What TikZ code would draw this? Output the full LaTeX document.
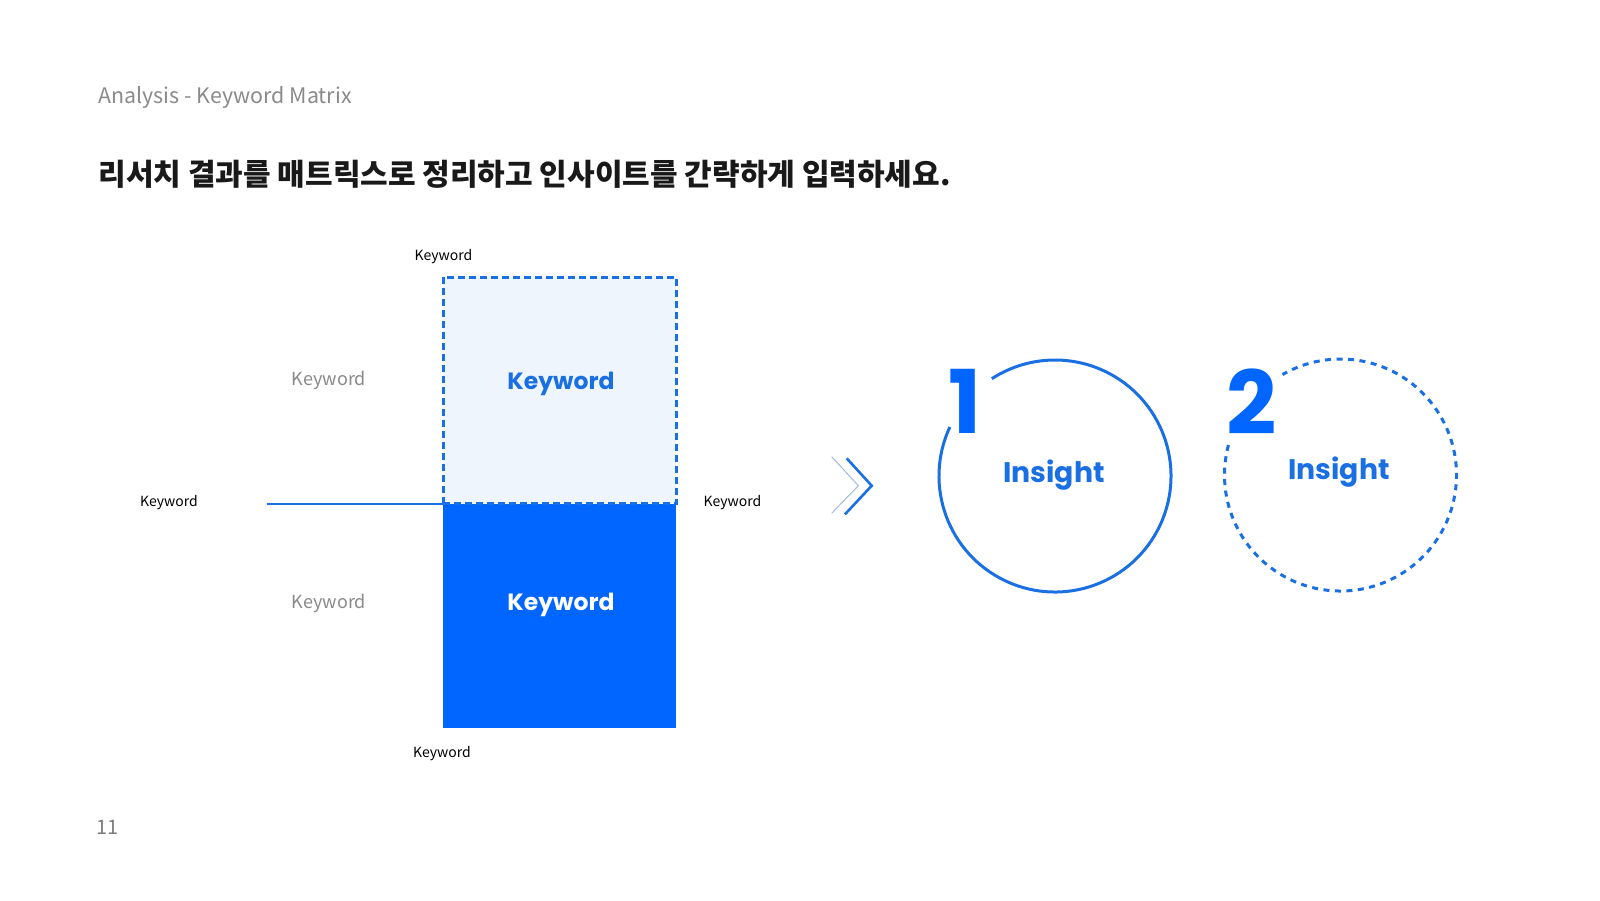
\documentclass[tikz,border=0pt]{standalone}
\usepackage{fontspec}
\setmainfont{Noto Sans CJK KR}
\newfontfamily\pop{Poppins}
\definecolor{kblue}{HTML}{0066FF}
\definecolor{kstroke}{HTML}{1A6FE3}
\definecolor{klight}{HTML}{EEF5FD}
\definecolor{kgray}{HTML}{8A8A8A}
\definecolor{kchev}{HTML}{A3B9DE}
\begin{document}
\begin{tikzpicture}[x=1pt,y=-1pt,
  every node/.style={inner sep=0pt,outer sep=0pt},
  smalllabel/.style={font=\fontsize{14}{16}\selectfont,text=black},
  graylabel/.style={font=\fontsize{18}{20}\selectfont,text=kgray},
  boldkw/.style={font=\pop\bfseries\fontsize{23.5}{28}\selectfont},
  insight/.style={font=\pop\bfseries\fontsize{28.3}{32}\selectfont,text=kstroke},
  bignum/.style={font=\pop\bfseries\fontsize{88}{90}\selectfont,text=kblue},
  ringbox/.style={circle,minimum size=232pt}
]
\useasboundingbox[fill=white] (0,0) rectangle (1600,900);

% header
\node[anchor=west,text=kgray,font=\fontsize{21.4}{24}\selectfont] (crumb) at (98.5,97.4) {Analysis - Keyword Matrix};
\node[anchor=west,text=black!90,font=\bfseries\fontsize{30}{34}\selectfont] (title) at (98.5,174) {리서치 결과를 매트릭스로 정리하고 인사이트를 간략하게 입력하세요.};
\node[text=kgray!90!black,font=\fontsize{20}{22}\selectfont] (page) at (107.5,827.5) {11};

% matrix boxes
\node[rectangle,fill=kblue,minimum width=233pt,minimum height=224.4pt] (lower) at (559.5,615.8) {};
\node[rectangle,fill=klight,draw=kstroke,line width=3pt,dash pattern=on 7pt off 4pt,minimum width=233pt,minimum height=226.6pt] (upper) at (559.5,390.3) {};
\node[boldkw,text=kstroke] (kwup) at (561,383.6) {Keyword};
\node[boldkw,text=white] (kwlow) at (561,605) {Keyword};

\coordinate (lstart) at (266.7,503.6);
\draw[kstroke,line width=1.8pt] (lstart) -- (upper.south west);

% labels
\node[smalllabel] (ltop) at (443.5,257) {Keyword};
\node[smalllabel] (lbot) at (442,754) {Keyword};
\node[smalllabel] (lleft) at (169,502.6) {Keyword};
\node[smalllabel] (lright) at (732.5,502.6) {Keyword};
\node[graylabel] (g1) at (329,380.5) {Keyword};
\node[graylabel] (g2) at (329,603) {Keyword};

% chevrons
\coordinate (c1a) at (831.7,456.7);
\coordinate (c1b) at (858.3,485.7);
\coordinate (c1c) at (831.7,513.3);
\coordinate (c2a) at (846.7,458.3);
\coordinate (c2b) at (871.7,485.7);
\coordinate (c2c) at (845,514.3);
\draw[kchev,line width=1pt] (c1a) -- (c1b) -- (c1c);
\draw[kstroke,line width=2.6pt] (c2a) -- (c2b) -- (c2c);

% insight circles
\node[ringbox] (ring1) at (1055,476) {};
\draw[kstroke,line width=3pt] (ring1.155) arc[start angle=155,end angle=483,radius=116pt];
\node[bignum] (n1) at (965,401) {1};
\node[insight] (ins1) at (1054,475) {Insight};

\node[ringbox] (ring2) at (1340.5,475) {};
\draw[kstroke,line width=3pt,dash pattern=on 6pt off 5.5pt] (ring2.165) arc[start angle=165,end angle=480,radius=116pt];
\node[bignum] (n2) at (1251.5,401.5) {2};
\node[insight] (ins2) at (1339,472) {Insight};
\end{tikzpicture}
\end{document}
